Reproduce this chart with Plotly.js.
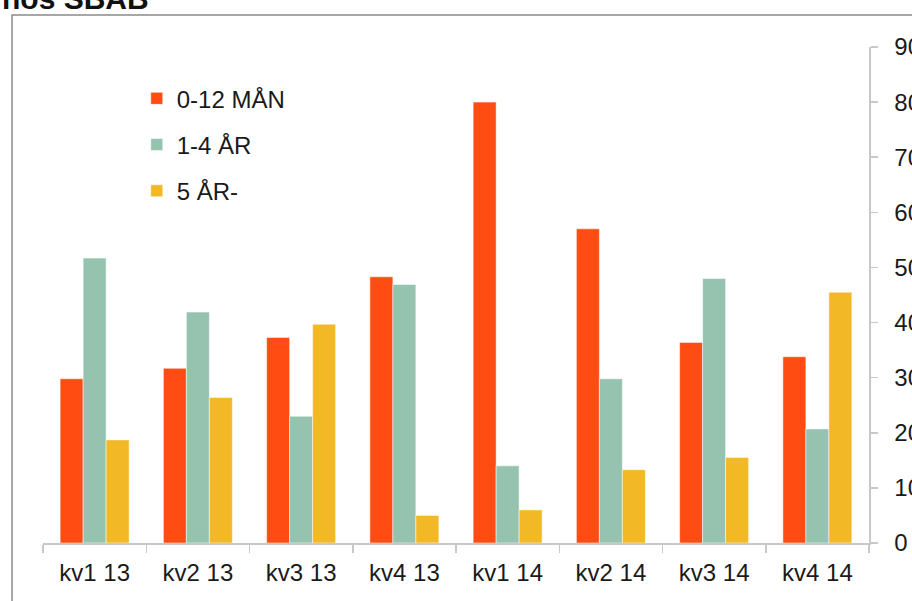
<!DOCTYPE html>
<html>
<head>
<meta charset="utf-8">
<script src="https://cdn.plot.ly/plotly-3.0.1.min.js"></script>
<style>html,body{margin:0;padding:0;background:#fff;}#chart{width:912px;height:601px;}</style>
</head>
<body>
<div id="chart"></div>
<script>
const categories = ["kv1 13","kv2 13","kv3 13","kv4 13","kv1 14","kv2 14","kv3 14","kv4 14"];
const seriesNames = ["0-12 MÅN","1-4 ÅR","5 ÅR-"];
const shortRate = [29.8, 31.7, 37.3, 48.3, 80.0, 57.0, 36.4, 33.8];
const midRate   = [51.7, 41.9, 23.0, 46.9, 14.0, 29.8, 48.0, 20.7];
const longRate  = [18.7, 26.4, 39.7, 5.0, 6.0, 13.3, 15.5, 45.5];
const yTicks = [0,10,20,30,40,50,60,70,80,90];
const titleText = "hos SBAB";

const colors = ["#FE4C12","#96C3AF","#F3B825"];
const values = [shortRate, midRate, longRate];
const font = "Liberation Sans, Arial, sans-serif";

const traces = values.map((v,i)=>({
  type:"bar", x:categories, y:v, name:seriesNames[i], legendgroup:"g"+i,
  marker:{color:colors[i], line:{color:"rgba(255,255,255,0.5)", width:1}},
  hoverinfo:"skip"
}));

const layout = {
  width:912, height:601,
  margin:{l:43, r:43, t:47, b:58, pad:0},
  paper_bgcolor:"#fff", plot_bgcolor:"#fff",
  font:{family:font, size:24, color:"#1a1a1a"},
  barmode:"group", bargap:0.332, bargroupgap:0,
  showlegend:true,
  legend:{x:0.1135, y:0.941, xanchor:"left", yanchor:"top", bgcolor:"rgba(0,0,0,0)",
          font:{family:font, size:24, color:"#1a1a1a"}, tracegroupgap:12, itemwidth:30},
  xaxis:{type:"category", showline:true, linecolor:"#c8c8c8", linewidth:1.5,
         ticks:"outside", tickson:"boundaries", ticklen:8, tickcolor:"#c8c8c8", tickwidth:1.5,
         ticklabelstandoff:8,
         showgrid:false, zeroline:false, tickfont:{family:font, size:24, color:"#1a1a1a"}, fixedrange:true},
  yaxis:{side:"right", range:[0,90], tickvals:yTicks, showline:true, linecolor:"#c8c8c8", linewidth:1.5,
         ticks:"outside", ticklen:7, tickcolor:"#c8c8c8", tickwidth:1.5, showgrid:false, zeroline:false,
         ticklabelstandoff:12, tickfont:{family:font, size:24, color:"#1a1a1a"}, fixedrange:true},
  shapes:[{type:"rect", xref:"paper", yref:"paper", x0:-0.0375, x1:1.2, y0:-0.3, y1:1.0645,
           line:{color:"#8a8a8a", width:1.5}, fillcolor:"rgba(0,0,0,0)", layer:"below"}],
  annotations:[{text:"<b>"+titleText+"</b>", xref:"paper", yref:"paper", x:-0.051, y:(543-7.5)/496,
                xanchor:"left", yanchor:"bottom", showarrow:false, yshift:-8, borderpad:0,
                font:{family:font, size:30, color:"#111"}}]
};

Plotly.newPlot("chart", traces, layout, {displayModeBar:false, staticPlot:true});
</script>
</body>
</html>
